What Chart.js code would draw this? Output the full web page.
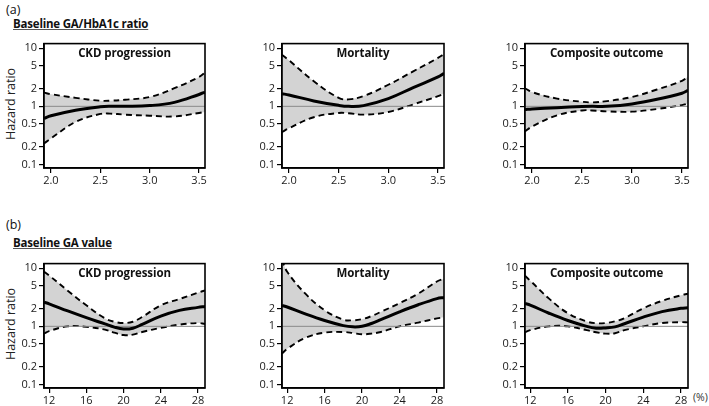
<!DOCTYPE html>
<html><head><meta charset="utf-8">
<script src="https://cdn.jsdelivr.net/npm/chart.js@4/dist/chart.umd.min.js"></script>
<style>
html,body{margin:0;padding:0;background:#fff;}
body{width:709px;height:406px;position:relative;overflow:hidden;font-family:"Open Sans",sans-serif;color:#111;}
.c{position:absolute;}
.t{position:absolute;white-space:nowrap;}
.lab{font-size:12.5px;}
.sec{font-size:11.5px;font-weight:bold;text-decoration:underline;text-decoration-color:#555;letter-spacing:-0.2px;}
.ptitle{font-size:11.5px;font-weight:bold;transform:translate(-50%,-50%);letter-spacing:-0.1px;}
.yt{font-size:12.5px;transform:translate(-50%,-50%) rotate(-90deg);color:#222;}
</style></head>
<body>
<div class="t lab" style="left:6px;top:1px;">(a)</div>
<div class="t sec" style="left:13px;top:16px;">Baseline GA/HbA1c ratio</div>
<div class="t lab" style="left:6px;top:216px;">(b)</div>
<div class="t sec" style="left:13px;top:235px;">Baseline GA value</div>
<div class="t yt" style="left:10px;top:104px;">Hazard ratio</div>
<div class="t yt" style="left:10px;top:324px;">Hazard ratio</div>
<div class="t" style="left:693px;top:390px;font-size:10.5px;color:#333;">(%)</div>
<div id="wrap"></div>
<script>
// ---- data ----
const ratioX = [1.93, 2.0, 2.25, 2.5, 2.6, 2.75, 3.0, 3.25, 3.5, 3.56];
const ratioTicks = [2.0, 2.5, 3.0, 3.5];
const gaX = [11.45, 12, 14, 16, 18, 19, 20, 21, 22, 24, 26, 28, 28.75];
const gaTicks = [12, 16, 20, 24, 28];
const hrTicks = [0.1, 0.2, 0.5, 1, 2, 5, 10];
const titles = ["CKD progression", "Mortality", "Composite outcome"];

// (a) GA/HbA1c ratio
const aCkdHR    = [0.62, 0.69, 0.86, 0.98, 1.0, 1.0, 1.03, 1.17, 1.6, 1.76];
const aCkdUpper = [1.72, 1.62, 1.4, 1.25, 1.25, 1.3, 1.45, 2.05, 3.2, 3.8];
const aCkdLower = [0.23, 0.28, 0.54, 0.74, 0.75, 0.72, 0.69, 0.67, 0.77, 0.8];

const aMorHR    = [1.65, 1.57, 1.24, 1.04, 1.0, 1.03, 1.36, 2.1, 3.2, 3.7];
const aMorUpper = [7.7, 6.2, 2.7, 1.4, 1.32, 1.5, 2.35, 4.0, 6.8, 7.9];
const aMorLower = [0.36, 0.42, 0.65, 0.77, 0.76, 0.72, 0.8, 1.08, 1.5, 1.67];

const aComHR    = [0.88, 0.9, 0.95, 0.99, 1.0, 1.0, 1.1, 1.32, 1.68, 1.88];
const aComUpper = [2.05, 1.76, 1.36, 1.2, 1.17, 1.23, 1.45, 1.95, 2.75, 3.25];
const aComLower = [0.37, 0.45, 0.7, 0.85, 0.85, 0.82, 0.81, 0.9, 1.05, 1.12];

// (b) GA value (%)
const bCkdHR    = [2.6, 2.44, 1.84, 1.41, 1.1, 0.97, 0.9, 0.93, 1.08, 1.5, 1.88, 2.12, 2.2];
const bCkdUpper = [8.7, 7.5, 4.1, 2.3, 1.37, 1.2, 1.14, 1.2, 1.45, 2.3, 2.95, 3.8, 4.15];
const bCkdLower = [0.75, 0.83, 1.0, 0.98, 0.88, 0.78, 0.71, 0.72, 0.8, 0.94, 1.07, 1.14, 1.1];

const bMorHR    = [2.29, 2.15, 1.62, 1.26, 1.03, 0.98, 1.0, 1.12, 1.3, 1.77, 2.35, 3.0, 3.14];
const bMorUpper = [14, 8.7, 3.57, 1.89, 1.3, 1.27, 1.33, 1.5, 1.77, 2.5, 3.66, 5.9, 6.6];
const bMorLower = [0.34, 0.41, 0.64, 0.78, 0.8, 0.77, 0.73, 0.75, 0.8, 1.0, 1.16, 1.37, 1.43];

const bComHR    = [2.47, 2.32, 1.68, 1.26, 1.0, 0.93, 0.94, 0.98, 1.11, 1.44, 1.79, 2.04, 2.09];
const bComUpper = [7.4, 6.1, 3.0, 1.68, 1.21, 1.13, 1.14, 1.22, 1.38, 2.04, 2.74, 3.42, 3.65];
const bComLower = [0.79, 0.86, 1.0, 1.0, 0.86, 0.79, 0.75, 0.76, 0.86, 1.0, 1.14, 1.18, 1.17];

// ---- layout ----
const colL = [44, 282, 525], colR = [205, 444, 688];
const rowT = [39, 259], rowB = [168, 388];
const YW = 42, XH = 26, PT = 4, PR = 12;
const FONT = '"Open Sans", sans-serif';

const framePlugin = {
  id: 'frame',
  afterDatasetsDraw(chart) {
    const a = chart.chartArea, ctx = chart.ctx;
    ctx.save();
    ctx.strokeStyle = '#000'; ctx.lineWidth = 1.6;
    ctx.strokeRect(a.left, a.top, a.right - a.left, a.bottom - a.top);
    ctx.restore();
  }
};

function pts(xs, ys) { return xs.map((x, i) => ({x: x, y: ys[i]})); }

function makePanel(row, col, xs, hr, up, lo, xmin, xmax, xticks, fmt) {
  const l = colL[col], r = colR[col], t = rowT[row], b = rowB[row];
  const cv = document.createElement('canvas');
  const w = (r - l) + YW + PR, h = (b - t) + PT + XH;
  const div = document.createElement('div');
  div.className = 'c';
  div.style.left = (l - YW) + 'px'; div.style.top = (t - PT) + 'px';
  div.style.width = w + 'px'; div.style.height = h + 'px';
  div.appendChild(cv);
  document.getElementById('wrap').appendChild(div);

  const tt = document.createElement('div');
  tt.className = 't ptitle'; tt.textContent = titles[col];
  tt.style.left = ((l + r) / 2) + 'px'; tt.style.top = (t + 13) + 'px';
  document.body.appendChild(tt);

  const line = {pointRadius: 0, tension: 0.4};
  new Chart(cv, {
    type: 'line',
    data: {
      datasets: [
        Object.assign({label: 'HR', data: pts(xs, hr), borderColor: '#000', borderWidth: 3, fill: false}, line),
        Object.assign({label: 'ref', data: [{x: xmin, y: 1}, {x: xmax, y: 1}], borderColor: '#8a8a8a', borderWidth: 1, fill: false}, {pointRadius: 0}),
        Object.assign({label: 'upper', data: pts(xs, up), borderColor: '#000', borderWidth: 1.9, borderDash: [6, 4], fill: '+1', backgroundColor: '#d3d3d3'}, line),
        Object.assign({label: 'lower', data: pts(xs, lo), borderColor: '#000', borderWidth: 1.9, borderDash: [6, 4], fill: false}, line)
      ]
    },
    options: {
      responsive: true, maintainAspectRatio: false, animation: false,
      layout: {padding: {top: PT, right: PR, left: 0, bottom: 0}},
      plugins: {legend: {display: false}, tooltip: {enabled: false}, filler: {drawTime: 'beforeDatasetsDraw'}},
      scales: {
        x: {
          type: 'linear', min: xmin, max: xmax,
          afterBuildTicks: s => { s.ticks = xticks.map(v => ({value: v})); },
          afterFit: s => { s.height = XH; },
          ticks: {callback: v => fmt(v), color: '#1a1a1a', font: {family: FONT, size: 11}, padding: 1, maxRotation: 0, autoSkip: false},
          grid: {display: true, drawOnChartArea: false, drawTicks: true, tickLength: 5, color: '#000', lineWidth: 1.2},
          border: {display: true, color: '#000', width: 1.6}
        },
        y: {
          type: 'logarithmic', min: 0.087, max: 12,
          afterBuildTicks: s => { s.ticks = hrTicks.map(v => ({value: v})); },
          afterFit: s => { s.width = YW; },
          ticks: {callback: v => String(v), color: '#1a1a1a', font: {family: FONT, size: 11}, padding: 2, autoSkip: false},
          grid: {display: true, drawOnChartArea: false, drawTicks: true, tickLength: 5, color: '#000', lineWidth: 1.2},
          border: {display: true, color: '#000', width: 1.6}
        }
      }
    },
    plugins: [framePlugin]
  });
}

const f1 = v => Number(v).toFixed(1);
const f0 = v => String(v);
makePanel(0, 0, ratioX, aCkdHR, aCkdUpper, aCkdLower, 1.93, 3.56, ratioTicks, f1);
makePanel(0, 1, ratioX, aMorHR, aMorUpper, aMorLower, 1.93, 3.56, ratioTicks, f1);
makePanel(0, 2, ratioX, aComHR, aComUpper, aComLower, 1.93, 3.56, ratioTicks, f1);
makePanel(1, 0, gaX, bCkdHR, bCkdUpper, bCkdLower, 11.45, 28.75, gaTicks, f0);
makePanel(1, 1, gaX, bMorHR, bMorUpper, bMorLower, 11.45, 28.75, gaTicks, f0);
makePanel(1, 2, gaX, bComHR, bComUpper, bComLower, 11.45, 28.75, gaTicks, f0);
</script>
</body></html>
